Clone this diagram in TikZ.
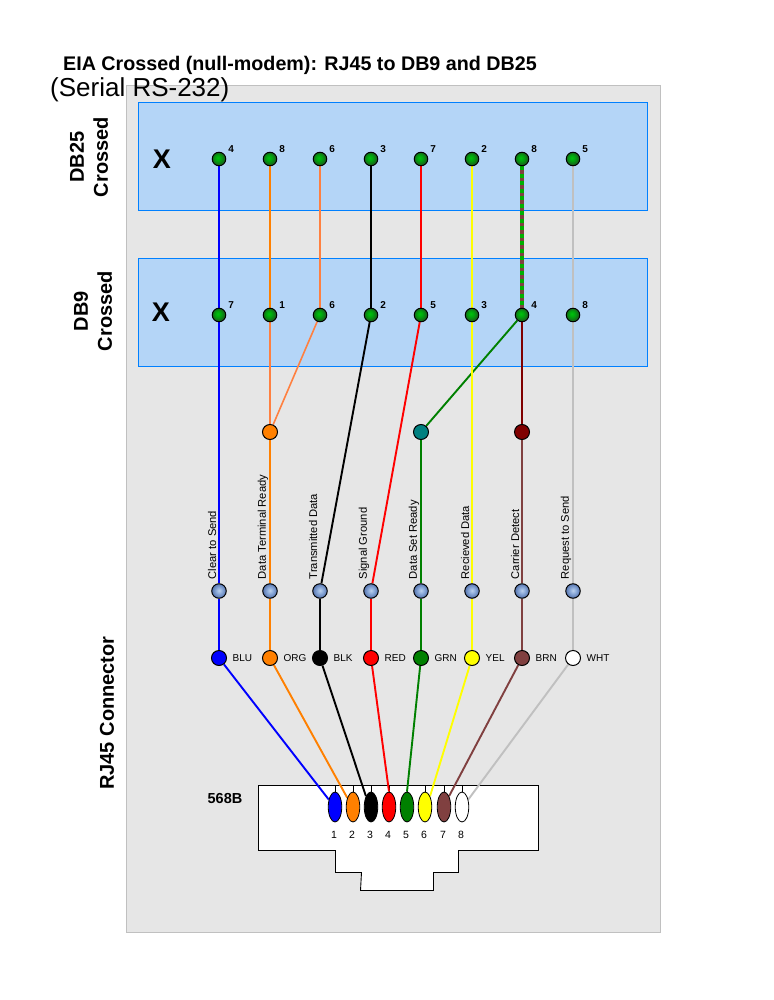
\documentclass[tikz,border=0pt]{standalone}
\usepackage{fontspec}
\setmainfont{Liberation Sans}
\usetikzlibrary{shapes.geometric}
\pgfdeclarelayer{panel}
\pgfdeclarelayer{wires}
\pgfsetlayers{panel,wires,main}
\definecolor{panelgray}{HTML}{E6E6E6}
\definecolor{panelline}{HTML}{C0C0C0}
\definecolor{boxblue}{HTML}{B4D5F7}
\definecolor{boxline}{HTML}{0080FF}
\definecolor{wblue}{HTML}{0000FF}
\definecolor{worange}{HTML}{FF8000}
\definecolor{wlight}{HTML}{FF8040}
\definecolor{wred}{HTML}{FF0000}
\definecolor{wgreen}{HTML}{008000}
\definecolor{wyellow}{HTML}{FFFF00}
\definecolor{wbrown}{HTML}{804040}
\definecolor{wgrey}{HTML}{C0C0C0}
\definecolor{wmaroon}{HTML}{800000}
\definecolor{wteal}{HTML}{008080}
\definecolor{wdash}{HTML}{00B000}
\pgfdeclareradialshading{greenball}{\pgfpoint{-5bp}{5bp}}{
  rgb(0bp)=(0,0.76,0.05);
  rgb(10bp)=(0,0.66,0.05);
  rgb(22bp)=(0.08,0.42,0.10);
  rgb(28bp)=(0.15,0.36,0.12);
  rgb(50bp)=(0.15,0.36,0.12)}
\pgfdeclareradialshading{steelball}{\pgfpoint{0bp}{2bp}}{
  rgb(0bp)=(0.74,0.82,0.93);
  rgb(10bp)=(0.56,0.68,0.86);
  rgb(22bp)=(0.38,0.50,0.72);
  rgb(28bp)=(0.33,0.44,0.66);
  rgb(50bp)=(0.33,0.44,0.66)}
\tikzset{
  x=1pt,y=-1pt,
  panelbox/.style={draw=panelline,fill=panelgray,line width=1pt},
  bluebox/.style={draw=boxline,fill=boxblue,line width=1pt},
  gball/.style={circle,draw=black,line width=1pt,inner sep=0pt,minimum size=13.5pt,shading=greenball},
  sball/.style={circle,draw=black,line width=1pt,inner sep=0pt,minimum size=14.5pt,shading=steelball},
  dot/.style={circle,draw=black,line width=1pt,inner sep=0pt,minimum size=15pt,fill=#1},
  pin/.style={ellipse,draw=black,line width=.8pt,inner sep=0pt,minimum width=13.5pt,minimum height=30pt,fill=#1},
  wire/.style={draw=#1,line width=1.9pt},
  thinwire/.style={draw=#1,line width=1.6pt},
  pinnum/.style={font=\bfseries\fontsize{10}{10}\selectfont,inner sep=0pt},
  sig/.style={font=\fontsize{11.2}{11.2}\selectfont,rotate=90,anchor=west,inner sep=0pt},
  col/.style={font=\fontsize{10}{10}\selectfont,anchor=west,inner sep=0pt},
  num/.style={font=\fontsize{10.5}{10.5}\selectfont,inner sep=0pt},
  side/.style={font=\bfseries\fontsize{20}{24}\selectfont,rotate=90,align=center,inner sep=0pt},
  bigx/.style={font=\bfseries\fontsize{27}{27}\selectfont,inner sep=0pt},
}
\begin{document}
\begin{tikzpicture}
\useasboundingbox (0,0) rectangle (773,1000);

\begin{pgfonlayer}{panel}
  \path[panelbox] (126.5,85.5) rectangle (660.5,932.5);
  \path[bluebox] (138.5,102.5) rectangle (647.5,210.5);
  \path[bluebox] (138.5,258.5) rectangle (647.5,366.5);
  \draw[fill=white,draw=black,line width=.9pt]
    (258.5,785.5) -- (538.5,785.5) -- (538.5,850.5) -- (458.5,850.5) -- (458.5,872.5)
    -- (433.5,872.5) -- (433.5,890.5) -- (360.5,890.5) -- (361.5,872.5) -- (335.5,872.5)
    -- (335.5,850.5) -- (258.5,850.5) -- cycle;
\end{pgfonlayer}

% titles
\node[font=\bfseries\fontsize{19.7}{19.7}\selectfont,anchor=west,inner sep=0pt] (title) at (63,65.5) {EIA Crossed (null-modem): RJ45 to DB9 and DB25};
\node[font=\fontsize{26}{26}\selectfont,anchor=west,inner sep=0pt] (subtitle) at (50,89.5) {(Serial RS-232)};
\node[side] (s25) at (89,157) {DB25\\Crossed};
\node[side] (s9) at (93,311) {DB9\\Crossed};
\node[side] (srj) at (107,713) {RJ45 Connector};
\node[bigx] (x25) at (162,159) {X};
\node[bigx] (x9) at (161,312) {X};
\node[font=\bfseries\fontsize{14.5}{14.5}\selectfont,inner sep=0pt] (t568) at (225,798) {568B};

% DB25 row
\foreach \n/\x/\t in {1/219/4,2/270/8,3/320/6,4/371/3,5/421/7,6/472/2,7/522/8,8/573/5}{
  \node[gball] (a\n) at (\x,159) {};
  \node[pinnum] (al\n) at (\x+12.2,149) {\t};
}
% DB9 row
\foreach \n/\x/\t in {1/219/7,2/270/1,3/320/6,4/371/2,5/421/5,6/472/3,7/522/4,8/573/8}{
  \node[gball] (b\n) at (\x,315) {};
  \node[pinnum] (bl\n) at (\x+12.2,305) {\t};
}
% junctions
\node[dot=worange] (j2) at (270,432) {};
\node[dot=wteal] (j5) at (421,432) {};
\node[dot=wmaroon] (j7) at (522,432) {};
% signal row
\foreach \n/\x/\t in {1/219/Clear to Send,2/270/Data Terminal Ready,3/320/Transmitted Data,4/371/Signal Ground,5/421/Data Set Ready,6/472/Recieved Data,7/522/Carrier Detect,8/573/Request to Send}{
  \node[sball] (c\n) at (\x,591) {};
  \node[sig] (cl\n) at (\x-7,579.5) {\t};
}
% colour row
\foreach \n/\x/\c/\t in {1/219/wblue/BLU,2/270/worange/ORG,3/320/black/BLK,4/371/wred/RED,5/421/wgreen/GRN,6/472/wyellow/YEL,7/522/wbrown/BRN,8/573/white/WHT}{
  \node[dot=\c] (d\n) at (\x,658) {};
  \node[col] (dl\n) at (\x+13.5,658) {\t};
}
% pins
\foreach \n/\x/\c in {1/335/wblue,2/353/worange,3/371/black,4/389/wred,5/407/wgreen,6/425/wyellow,7/444/wbrown,8/462/white}{
  \node[pin=\c] (p\n) at (\x,807) {};
  \node[num] (pl\n) at (\x-1,835) {\n};
  \begin{pgfonlayer}{wires}
    \draw[black,line width=.7pt] (p\n.north) -- ++(0,-7);
  \end{pgfonlayer}
}

\begin{pgfonlayer}{wires}
  % blue
  \draw[wire=wblue] (a1) -- (b1);
  \draw[wire=wblue] (b1) -- (c1);
  \draw[wire=wblue] (c1) -- (d1);
  \draw[wire=wblue] (d1) -- (p1.130);
  % orange
  \draw[wire=worange] (a2) -- (b2);
  \draw[wire=wlight] (b2) -- (j2);
  \draw[thinwire=wlight] (a3) -- (b3);
  \draw[thinwire=wlight] (b3) -- (j2);
  \draw[wire=worange] (j2) -- (c2);
  \draw[wire=worange] (c2) -- (d2);
  \draw[wire=worange] (d2) -- (p2.122);
  % black
  \draw[wire=black] (a4) -- (b4);
  \draw[wire=black] (b4) -- (c3);
  \draw[wire=black] (c3) -- (d3);
  \draw[wire=black] (d3) -- (p3.115);
  % red
  \draw[wire=wred] (a5) -- (b5);
  \draw[wire=wred] (b5) -- (c4);
  \draw[wire=wred] (c4) -- (d4);
  \draw[wire=wred] (d4) -- (p4.north);
  % green
  \draw[wire=wgreen] (b7) -- (j5);
  \draw[wire=wgreen] (j5) -- (c5);
  \draw[wire=wgreen] (c5) -- (d5);
  \draw[wire=wgreen] (d5) -- (p5.north);
  % yellow
  \draw[wire=wyellow] (a6) -- (b6);
  \draw[wire=wyellow] (b6) -- (c6);
  \draw[wire=wyellow] (c6) -- (d6);
  \draw[wire=wyellow] (d6) -- (p6.65);
  % brown
  \draw[draw=wbrown,line width=4.5pt] (a7) -- (b7);
  \draw[draw=wdash,line width=3.6pt,dash pattern=on 3.8pt off 3.7pt] (a7) -- (b7);
  \draw[wire=wmaroon] (b7) -- (j7);
  \draw[wire=wbrown] (j7) -- (c7);
  \draw[wire=wbrown] (c7) -- (d7);
  \draw[wire=wbrown] (d7) -- (p7.65);
  % grey
  \draw[wire=wgrey] (a8) -- (b8);
  \draw[wire=wgrey] (b8) -- (c8);
  \draw[wire=wgrey] (c8) -- (d8);
  \draw[wire=wgrey] (d8) -- (p8.50);
\end{pgfonlayer}
\end{tikzpicture}
\end{document}
